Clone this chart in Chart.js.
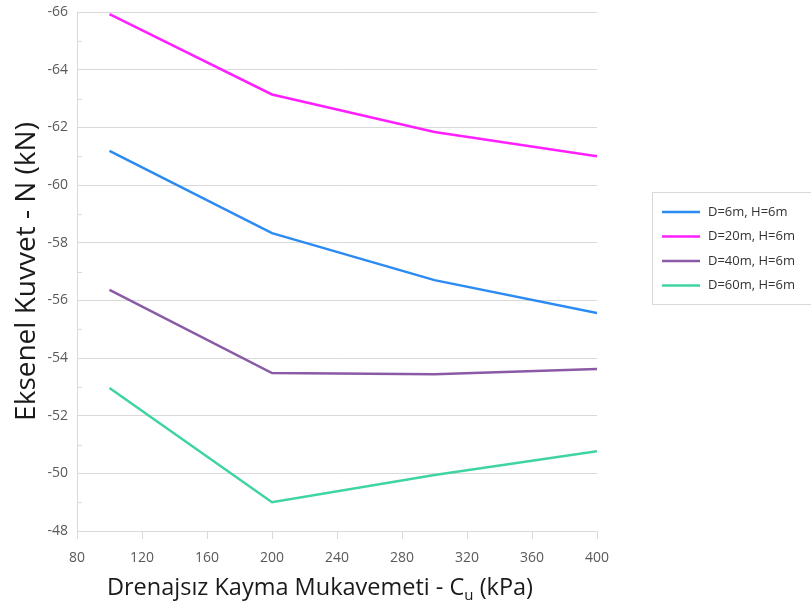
<!DOCTYPE html>
<html>
<head>
<meta charset="utf-8">
<script src="https://cdn.jsdelivr.net/npm/chart.js@4/dist/chart.umd.min.js"></script>
<style>
  html, body { margin: 0; padding: 0; background: #ffffff; }
  #wrap { width: 811px; height: 608px; }
</style>
</head>
<body>
<div id="wrap"><canvas id="c" width="811" height="608"></canvas></div>
<script>
// Undrained shear strength Cu (kPa)
const cuValues = [100, 200, 300, 400];

// Axial force N (kN) for each excavation depth
const seriesLabels = ['D=6m, H=6m', 'D=20m, H=6m', 'D=40m, H=6m', 'D=60m, H=6m'];
const d6  = [-61.18, -58.33, -56.70, -55.56];
const d20 = [-65.93, -63.14, -61.84, -61.00];
const d40 = [-56.36, -53.48, -53.44, -53.62];
const d60 = [-52.96, -49.00, -49.94, -50.77];
const seriesColors = ['#2b8bf2', '#ff1fff', '#8b5aa6', '#3fd4a0'];

// Axis ranges and tick spacing
const xTicks = { min: 80, max: 400, step: 40 };
const yTicks = { min: -66, max: -48, step: 2 };

const FONT = "'Open Sans', 'Liberation Sans', sans-serif";
const GRID = '#d9d9d9';
const TEXT = '#595959';

function toPoints(vals) {
  return cuValues.map((x, i) => ({ x: x, y: vals[i] }));
}

const seriesValues = [d6, d20, d40, d60];
const datasets = seriesValues.map((vals, i) => ({
  label: seriesLabels[i],
  data: toPoints(vals),
  borderColor: seriesColors[i],
  backgroundColor: seriesColors[i],
  borderWidth: 2.5,
  pointRadius: 0,
  tension: 0,
  fill: false
}));

// Short minor ticks on the inside of the value axis, between the labelled values
const minorTicks = {
  id: 'minorTicks',
  afterDatasetsDraw(chart) {
    const y = chart.scales.y;
    const ctx = chart.ctx;
    const left = chart.chartArea.left;
    ctx.save();
    ctx.strokeStyle = GRID;
    ctx.lineWidth = 1;
    for (let v = yTicks.min + 1; v < yTicks.max; v += 2) {
      const py = Math.round(y.getPixelForValue(v)) + 0.5;
      ctx.beginPath();
      ctx.moveTo(left, py);
      ctx.lineTo(left + 5, py);
      ctx.stroke();
    }
    ctx.restore();
  }
};

// Horizontal-axis title with a subscript "u"
const xTitle = {
  id: 'xTitle',
  afterDraw(chart) {
    const ctx = chart.ctx;
    const main = 'Drenajsız Kayma Mukavemeti - C';
    const sub = 'u';
    const tail = ' (kPa)';
    ctx.save();
    ctx.fillStyle = '#1a1a1a';
    ctx.textBaseline = 'alphabetic';
    const big = '23.5px ' + FONT;
    const small = '15px ' + FONT;
    ctx.font = big;
    const w1 = ctx.measureText(main).width;
    const w3 = ctx.measureText(tail).width;
    ctx.font = small;
    const w2 = ctx.measureText(sub).width;
    const total = w1 + w2 + w3;
    const cx = 320;
    let x = cx - total / 2;
    const base = 595;
    ctx.textAlign = 'left';
    ctx.font = big;
    ctx.fillText(main, x, base);
    x += w1;
    ctx.font = small;
    ctx.fillText(sub, x, base + 5);
    x += w2;
    ctx.font = big;
    ctx.fillText(tail, x, base);
    ctx.restore();
  }
};

// Boxed legend to the right of the plot
const sideLegend = {
  id: 'sideLegend',
  afterDraw(chart) {
    const ctx = chart.ctx;
    const box = { x: 652.5, y: 192.5, w: 170, h: 112 };
    ctx.save();
    ctx.strokeStyle = GRID;
    ctx.lineWidth = 1;
    ctx.strokeRect(box.x, box.y, box.w, box.h);
    ctx.font = '13px ' + FONT;
    ctx.textBaseline = 'middle';
    ctx.textAlign = 'left';
    chart.data.datasets.forEach((ds, i) => {
      const yy = 212 + i * 24.5;
      ctx.strokeStyle = ds.borderColor;
      ctx.lineWidth = 2.5;
      ctx.beginPath();
      ctx.moveTo(662, yy);
      ctx.lineTo(700, yy);
      ctx.stroke();
      ctx.fillStyle = '#333333';
      ctx.fillText(ds.label, 708, yy);
    });
    ctx.restore();
  }
};

new Chart(document.getElementById('c'), {
  type: 'line',
  data: { datasets: datasets },
  plugins: [minorTicks, xTitle, sideLegend],
  options: {
    responsive: false,
    animation: false,
    devicePixelRatio: 1,
    layout: { padding: { top: 12, right: 214, left: 0, bottom: 0 } },
    plugins: {
      legend: { display: false },
      tooltip: { enabled: false },
      title: { display: false }
    },
    scales: {
      x: {
        type: 'linear',
        min: xTicks.min,
        max: xTicks.max,
        afterFit(s) { s.height = 77; },
        ticks: {
          stepSize: xTicks.step,
          color: TEXT,
          font: { family: FONT, size: 14 },
          padding: 11,
          maxRotation: 0
        },
        grid: {
          display: true,
          drawOnChartArea: false,
          drawTicks: true,
          tickLength: 8,
          color: GRID
        },
        border: { display: true, color: GRID, width: 1 }
      },
      y: {
        type: 'linear',
        reverse: true,
        min: yTicks.min,
        max: yTicks.max,
        afterFit(s) {
          s.width = 77;
          s.paddingTop = 0;
          s.paddingBottom = 0;
        },
        ticks: {
          stepSize: yTicks.step,
          color: TEXT,
          font: { family: FONT, size: 14 },
          padding: 9
        },
        grid: {
          display: true,
          drawOnChartArea: true,
          drawTicks: false,
          color: GRID
        },
        border: { display: true, color: GRID, width: 1 },
        title: {
          display: true,
          text: 'Eksenel Kuvvet - N (kN)',
          color: '#1a1a1a',
          font: { family: FONT, size: 28 },
          padding: { top: 10, bottom: 0 }
        }
      }
    }
  }
});
</script>
</body>
</html>
